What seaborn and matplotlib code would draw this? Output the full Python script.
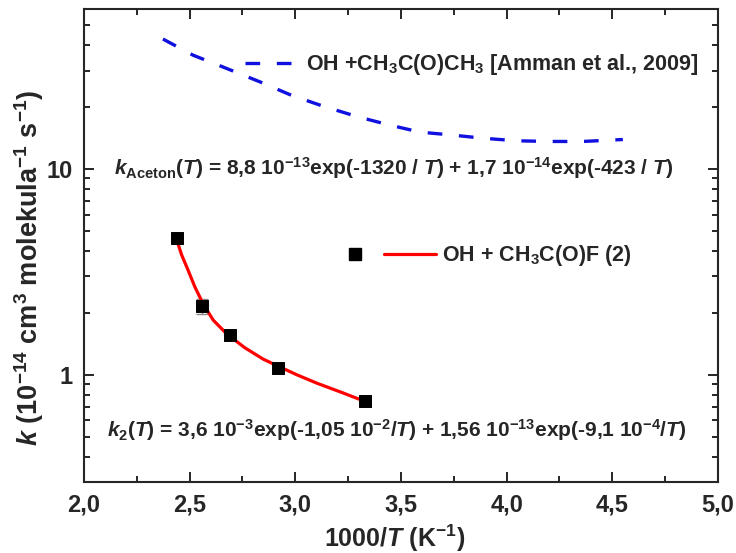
import numpy as np
import pandas as pd
import matplotlib
matplotlib.use('Agg')
import matplotlib.pyplot as plt
import seaborn as sns
from matplotlib import font_manager
from matplotlib.lines import Line2D
from matplotlib.legend_handler import HandlerTuple
from matplotlib.ticker import LogLocator, MultipleLocator, FuncFormatter, NullFormatter

# measured rate constants, OH + CH3C(O)F
x_meas = [2.44, 2.56, 2.69, 2.92, 3.33]
k_meas = [4.6, 2.15, 1.55, 1.08, 0.745]
k_err = [0.08, 0.18, 0.05, 0.04, 0.03]

# fitted curve k2(T)
x_fit = [2.438, 2.462, 2.494, 2.525, 2.564, 2.612, 2.675, 2.762, 2.848,
         2.919, 3.006, 3.101, 3.219, 3.330]
k_fit = [4.56, 3.83, 3.20, 2.67, 2.21, 1.84, 1.58, 1.35, 1.19,
         1.10, 1.00, 0.91, 0.82, 0.741]

# OH + acetone, Amman et al. 2009
x_ac = [2.374, 2.517, 2.675, 2.833, 2.982, 3.131, 3.290, 3.44, 3.59,
        3.746, 3.888, 4.049, 4.205, 4.361, 4.55]
k_ac = [42.8, 35.7, 30.8, 26.5, 22.8, 20.2, 18.0, 16.4, 15.1,
        14.6, 14.1, 13.7, 13.6, 13.6, 13.9]

label_ac = r'OH +CH$_3$C(O)CH$_3$ [Amman et al., 2009]'
label_f = r'OH + CH$_3$C(O)F (2)'

sns.set_style('ticks')
names = {f.name for f in font_manager.fontManager.ttflist}
fam = 'Liberation Sans Narrow' if 'Liberation Sans Narrow' in names else 'Liberation Sans'
plt.rcParams['font.family'] = [fam, 'DejaVu Sans']
plt.rcParams['font.weight'] = 'bold'
plt.rcParams['mathtext.fontset'] = 'custom'
plt.rcParams['mathtext.rm'] = fam + ':bold'
plt.rcParams['mathtext.it'] = fam + ':italic:bold'
plt.rcParams['mathtext.bf'] = fam + ':bold'
plt.rcParams['mathtext.sf'] = fam + ':bold'

fig = plt.figure(figsize=(7.36, 5.53), dpi=100)
ax = fig.add_axes([0.114, 0.128, 0.8615, 0.856])
ax.set_yscale('log')

df_ac = pd.DataFrame({'x': x_ac, 'k': k_ac})
df_fit = pd.DataFrame({'x': x_fit, 'k': k_fit})
df_meas = pd.DataFrame({'x': x_meas, 'k': k_meas})

blue = '#1010e0'
dash_ls = (0, (4.4, 5.0))
sns.lineplot(data=df_ac, x='x', y='k', ax=ax, color=blue, lw=2.4,
             linestyle=dash_ls, dash_capstyle='butt', legend=False)
ax.errorbar(x_meas, k_meas, yerr=k_err, fmt='none', ecolor='#888888',
            elinewidth=1, capsize=4, zorder=2)
sns.lineplot(data=df_fit, x='x', y='k', ax=ax, color='red', lw=2.3,
             legend=False, zorder=4)
sns.scatterplot(data=df_meas, x='x', y='k', ax=ax, marker='s', s=75,
                color='black', edgecolor='black', zorder=5, legend=False)

ax.set_xlim(2.0, 5.0)
ax.set_ylim(0.3, 60)
ax.xaxis.set_major_locator(MultipleLocator(0.5))
ax.xaxis.set_minor_locator(MultipleLocator(0.25))
ax.xaxis.set_major_formatter(FuncFormatter(lambda v, p: f'{v:.1f}'.replace('.', ',')))
ax.yaxis.set_major_locator(LogLocator(base=10))
ax.yaxis.set_minor_locator(LogLocator(base=10, subs=np.arange(2, 10)))
ax.yaxis.set_major_formatter(FuncFormatter(lambda v, p: f'{v:g}'))
ax.yaxis.set_minor_formatter(NullFormatter())
ax.tick_params(which='both', direction='in', top=True, right=True, width=1.4,
               labelsize=17, pad=8)
ax.tick_params(which='major', length=7)
ax.tick_params(which='minor', length=4)
for s in ax.spines.values():
    s.set_linewidth(1.5)

ax.set_xlabel(r'1000/$\mathit{T}$ (K$^{-1}$)', fontsize=18, fontweight='bold', labelpad=3)
ax.set_ylabel(r'$\mathit{k}$ (10$^{-14}$ cm$^{3}$ molekula$^{-1}$ s$^{-1}$)',
              fontsize=19.5, fontweight='bold')
ax.yaxis.set_label_coords(-0.06, 0.452)
ax.xaxis.set_label_coords(0.49, -0.085)

ax.text(0.489, 0.664,
        r'$\mathit{k}_{\mathrm{Aceton}}$($\mathit{T}$) = 8,8 10$^{-13}$exp(-1320 / $\mathit{T}$) + 1,7 10$^{-14}$exp(-423 / $\mathit{T}$)',
        transform=ax.transAxes, ha='center', va='center', fontsize=15, fontweight='bold')
ax.text(0.494, 0.11,
        r'$\mathit{k}_{2}$($\mathit{T}$) = 3,6 10$^{-3}$exp(-1,05 10$^{-2}$/$\mathit{T}$) + 1,56 10$^{-13}$exp(-9,1 10$^{-4}$/$\mathit{T}$)',
        transform=ax.transAxes, ha='center', va='center', fontsize=15, fontweight='bold')

h_ac = Line2D([], [], color=blue, lw=2.4, linestyle=dash_ls, dash_capstyle='butt')
leg1 = ax.legend([h_ac], [label_ac], loc='center left', bbox_to_anchor=(0.254, 0.882),
                 frameon=False, fontsize=15.5, handlelength=2.55, handletextpad=0.3,
                 borderpad=0, borderaxespad=0)
ax.add_artist(leg1)
h_sq = Line2D([], [], ls='none', marker='s', ms=8, color='black')
h_ln = Line2D([], [], color='red', lw=2.3)
ax.legend([(h_sq, h_ln)], [label_f], loc='center left', bbox_to_anchor=(0.386, 0.478),
          frameon=False, fontsize=15.5, handlelength=5.0, handletextpad=0.25,
          borderpad=0, borderaxespad=0,
          handler_map={tuple: HandlerTuple(ndivide=None, pad=0.17)})

fig.savefig('out.png', dpi=100)
